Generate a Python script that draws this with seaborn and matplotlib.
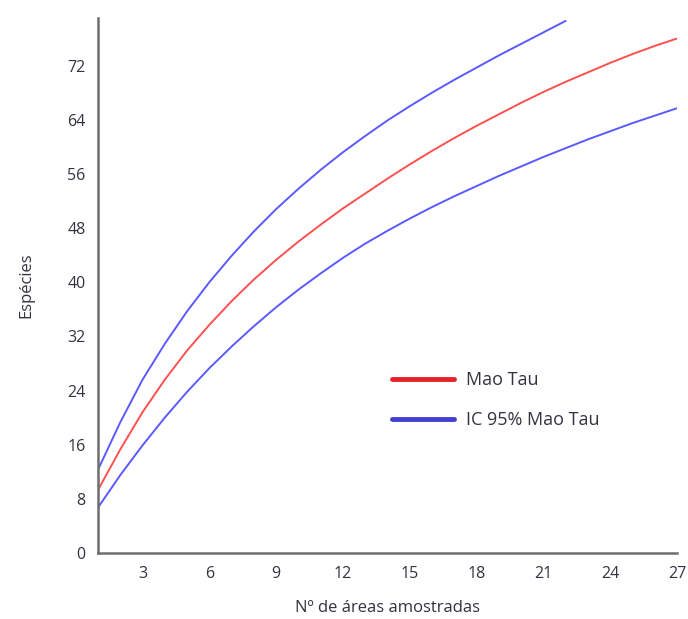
import numpy as np
import pandas as pd
import matplotlib
matplotlib.use('Agg')
import matplotlib.pyplot as plt
from matplotlib.lines import Line2D
import seaborn as sns

# rarefaction curve values
amostras = list(range(1, 28))
mao_tau = [9.3, 15.3, 20.8, 25.6, 29.9, 33.7, 37.2, 40.4, 43.3, 46.0,
           48.5, 50.9, 53.1, 55.3, 57.4, 59.4, 61.3, 63.1, 64.8, 66.5,
           68.1, 69.6, 71.0, 72.4, 73.7, 74.9, 76.0]
ic_sup = [12.3, 19.3, 25.6, 30.9, 35.7, 40.0, 43.9, 47.5, 50.8, 53.8,
          56.6, 59.2, 61.6, 63.9, 66.0, 68.0, 69.9, 71.7, 73.5, 75.2,
          76.9, 78.6]
ic_inf = [6.7, 11.5, 15.9, 20.0, 23.8, 27.3, 30.5, 33.5, 36.3, 38.9,
          41.3, 43.6, 45.7, 47.6, 49.4, 51.1, 52.7, 54.2, 55.7, 57.1,
          58.5, 59.8, 61.1, 62.3, 63.5, 64.6, 65.7]

sns.set_style('white')
plt.rcParams['font.family'] = ['Open Sans', 'DejaVu Sans']

fig = plt.figure(figsize=(6.88, 6.19), dpi=100)
ax = fig.add_axes([0.1424, 0.1066, 0.8416, 0.864])

sns.lineplot(x=amostras, y=mao_tau, color='#ff5050', lw=1.4, ax=ax)
sns.lineplot(x=amostras[:len(ic_sup)], y=ic_sup, color='#5a5aff', lw=1.4, ax=ax)
sns.lineplot(x=amostras, y=ic_inf, color='#5a5aff', lw=1.4, ax=ax)

ax.set_xlim(1, 27)
ax.set_ylim(0, 79)
ax.set_xticks(range(3, 28, 3))
ax.set_yticks(range(0, 73, 8))

for s in ['top', 'right']:
    ax.spines[s].set_visible(False)
for s in ['left', 'bottom']:
    ax.spines[s].set_color('#6e6e6e')
    ax.spines[s].set_linewidth(1.8)
ax.tick_params(axis='both', direction='out', length=5, width=1.5,
               color='#6e6e6e', labelcolor='#333340', labelsize=11.5, pad=4)

ax.set_xlabel('Nº de áreas amostradas', fontsize=12, color='#333340', labelpad=13)
ax.set_ylabel('Espécies', fontsize=12, color='#333340', labelpad=24)

handles = [Line2D([0], [0], color='#e8202a', lw=3.5),
           Line2D([0], [0], color='#4040d0', lw=3.5)]
ax.legend(handles, ['Mao Tau', 'IC 95% Mao Tau'], frameon=False,
          loc='upper left', bbox_to_anchor=(0.48, 0.37), fontsize=13,
          handlelength=3.4, handletextpad=0.7, labelspacing=1.2,
          labelcolor='#333340')

fig.savefig('out.png', dpi=100)
